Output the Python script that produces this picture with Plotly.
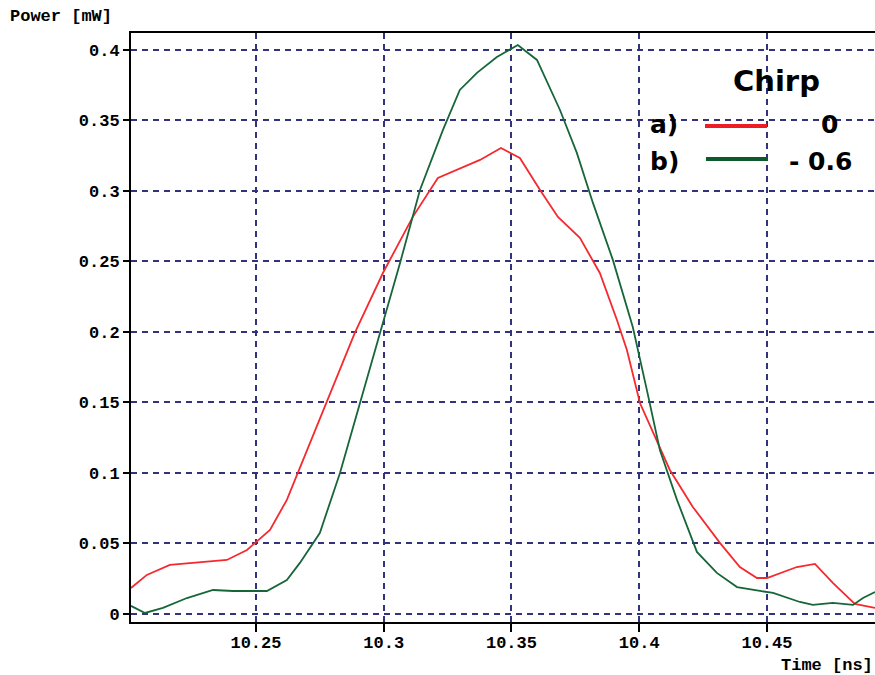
import plotly.graph_objects as go

# ---- data ----
time_red = [10.2011, 10.2073, 10.2163, 10.2281, 10.2386, 10.2465, 10.2500, 10.2555, 10.2621,
            10.2664, 10.2778, 10.2887, 10.2997, 10.3114, 10.3212, 10.3287, 10.3377, 10.3459,
            10.3533, 10.3612, 10.3682, 10.3768, 10.3846, 10.3913, 10.3952, 10.4003, 10.4054,
            10.4120, 10.4210, 10.4316, 10.4394, 10.4461, 10.4500, 10.4617, 10.4688, 10.4758,
            10.4844, 10.4923]
power_red = [0.0184, 0.0277, 0.0348, 0.0369, 0.0383, 0.0454, 0.0511, 0.0596, 0.0809,
             0.1000, 0.1496, 0.1993, 0.2418, 0.2816, 0.3092, 0.3149, 0.3220, 0.3305,
             0.3234, 0.3007, 0.2816, 0.2667, 0.2418, 0.2085, 0.1872, 0.1496, 0.1284,
             0.1021, 0.0759, 0.0504, 0.0333, 0.0255, 0.0255, 0.0333, 0.0355, 0.0220,
             0.0071, 0.0043]

time_green = [10.2011, 10.2066, 10.2136, 10.2230, 10.2332, 10.2410, 10.2543, 10.2621, 10.2672,
              10.2750, 10.2829, 10.2907, 10.2985, 10.3064, 10.3142, 10.3232, 10.3298, 10.3365,
              10.3443, 10.3525, 10.3600, 10.3690, 10.3756, 10.3819, 10.3897, 10.3975, 10.4030,
              10.4081, 10.4148, 10.4226, 10.4304, 10.4383, 10.4473, 10.4524, 10.4629, 10.4680,
              10.4758, 10.4837, 10.4876, 10.4923]
power_green = [0.0057, 0.0007, 0.0043, 0.0113, 0.0170, 0.0163, 0.0163, 0.0241, 0.0362,
               0.0574, 0.1000, 0.1496, 0.2000, 0.2489, 0.3007, 0.3433, 0.3716, 0.3837,
               0.3950, 0.4035, 0.3929, 0.3574, 0.3270, 0.2915, 0.2511, 0.2035, 0.1589,
               0.1163, 0.0809, 0.0440, 0.0291, 0.0191, 0.0163, 0.0149, 0.0085, 0.0064,
               0.0078, 0.0064, 0.0113, 0.0156]

x_ticks = [10.25, 10.3, 10.35, 10.4, 10.45]
x_tick_labels = ["10.25", "10.3", "10.35", "10.4", "10.45"]
y_ticks = [0, 0.05, 0.1, 0.15, 0.2, 0.25, 0.3, 0.35, 0.4]
y_tick_labels = ["0", "0.05", "0.1", "0.15", "0.2", "0.25", "0.3", "0.35", "0.4"]

legend_title = "Chirp"
legend_keys = ["a)", "b)"]
legend_values = ["0", "- 0.6"]

# ---- styling ----
W, H = 875, 675
ML, MR, MT, MB = 131, 0, 33, 53
PW, PH = W - ML - MR, H - MT - MB
RED = "#f42a2f"
GREEN = "#17663a"
GRID = "#33337d"
mono = "Liberation Mono"
sans = "DejaVu Sans"


def px(xpix):
    return (xpix - ML) / PW


def py(ypix):
    return (H - MB - ypix) / PH


fig = go.Figure()
fig.add_trace(go.Scatter(x=time_red, y=power_red, mode="lines",
                         line=dict(color=RED, width=1.8), showlegend=False))
fig.add_trace(go.Scatter(x=time_green, y=power_green, mode="lines",
                         line=dict(color=GREEN, width=1.8), showlegend=False))

tickfont = dict(family=mono, size=17, color="black", weight="bold")
fig.update_xaxes(range=[10.2011, 10.4923], tickvals=x_ticks, ticktext=x_tick_labels,
                 showgrid=True, gridcolor=GRID, gridwidth=2, griddash="6px,5px",
                 showline=True, linecolor="black", linewidth=2, mirror=True,
                 ticks="outside", ticklen=8, tickwidth=2, tickcolor="black",
                 ticklabelstandoff=-4,
                 tickfont=tickfont, zeroline=False)
fig.update_yaxes(range=[-0.0057, 0.412], tickvals=y_ticks, ticktext=y_tick_labels,
                 showgrid=True, gridcolor=GRID, gridwidth=2, griddash="6px,5px",
                 showline=True, linecolor="black", linewidth=2,
                 ticks="outside", ticklen=6, tickwidth=2, tickcolor="black",
                 tickfont=tickfont, zeroline=False)

shapes = [
    # legend box (covers grid)
    dict(type="rect", xref="paper", yref="paper", x0=px(615), x1=px(876), y0=py(207), y1=py(56),
         fillcolor="white", line=dict(width=0), layer="between"),
    dict(type="line", xref="paper", yref="paper", x0=px(705), x1=px(767), y0=py(126), y1=py(126),
         line=dict(color="#ee1c25", width=4)),
    dict(type="line", xref="paper", yref="paper", x0=px(706), x1=px(768), y0=py(159), y1=py(159),
         line=dict(color="#0f5a2c", width=4)),
]

annotations = [
    dict(text="Power [mW]", xref="paper", yref="paper", x=px(8), y=py(17), xanchor="left",
         yanchor="middle", showarrow=False, font=dict(family=mono, size=17, color="black", weight="bold")),
    dict(text="Time [ns]", xref="paper", yref="paper", x=px(875), y=py(665), xanchor="right",
         yanchor="middle", showarrow=False, font=dict(family=mono, size=17, color="black", weight="bold")),
    dict(text="<b>" + legend_title + "</b>", xref="paper", yref="paper", x=px(776), y=py(81),
         xanchor="center", yanchor="middle", showarrow=False,
         font=dict(family=sans, size=29, color="black")),
    dict(text="<b>" + legend_keys[0] + "</b>", xref="paper", yref="paper", x=px(648), y=py(124),
         xanchor="left", yanchor="middle", showarrow=False,
         font=dict(family=sans, size=25, color="black")),
    dict(text="<b>" + legend_keys[1] + "</b>", xref="paper", yref="paper", x=px(648), y=py(161),
         xanchor="left", yanchor="middle", showarrow=False,
         font=dict(family=sans, size=25, color="black")),
    dict(text="<b>" + legend_values[0] + "</b>", xref="paper", yref="paper", x=px(829), y=py(124),
         xanchor="center", yanchor="middle", showarrow=False,
         font=dict(family=sans, size=25, color="black")),
    dict(text="<b>" + legend_values[1] + "</b>", xref="paper", yref="paper", x=px(787), y=py(161),
         xanchor="left", yanchor="middle", showarrow=False,
         font=dict(family=sans, size=25, color="black")),
]

fig.update_layout(width=W, height=H, margin=dict(l=ML, r=MR, t=MT, b=MB, pad=0),
                  plot_bgcolor="white", paper_bgcolor="white",
                  shapes=shapes, annotations=annotations, showlegend=False)

fig.write_html("out.html")
